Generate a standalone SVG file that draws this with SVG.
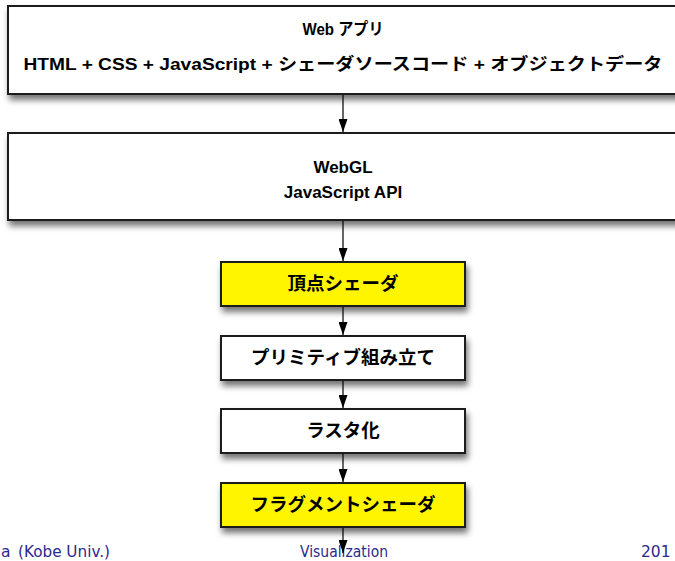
<svg xmlns="http://www.w3.org/2000/svg" width="675" height="561" viewBox="0 0 675 561">
<defs>
<filter id="sh" x="-10%" y="-20%" width="130%" height="160%">
<feDropShadow dx="2" dy="5" stdDeviation="3" flood-color="#000" flood-opacity="0.55"/>
</filter>
<marker id="arr" markerWidth="13" markerHeight="9" refX="13" refY="4.5" orient="auto" markerUnits="userSpaceOnUse" viewBox="0 0 13 9">
<path d="M0,0 L13,4.5 L0,9 Z" fill="#000"/>
</marker>
</defs>
<style>
.box{stroke:#1a1a1a;stroke-width:2;filter:url(#sh)}
.w{fill:#fff}
.y{fill:#fff500}
.t{font-family:"Liberation Sans","Noto Sans CJK JP",sans-serif;font-weight:bold;fill:#000;text-anchor:middle}
.c{stroke:#000;stroke-width:1.2;fill:none;marker-end:url(#arr)}
.f{font-family:"DejaVu Sans","Liberation Sans",sans-serif;fill:#2a2a8c;font-size:15.5px}
</style>
<rect width="675" height="561" fill="#fff"/>
<g id="connectors">
<line class="c" x1="343" y1="95" x2="343" y2="132"/>
<line class="c" x1="343" y1="221" x2="343" y2="261"/>
<line class="c" x1="343" y1="307" x2="343" y2="335"/>
<line class="c" x1="343" y1="381" x2="343" y2="408"/>
<line class="c" x1="343" y1="454" x2="343" y2="482"/>
</g>
<g id="webapp">
<rect class="box w" x="8" y="6" width="672" height="88"/>
<text class="t" x="343" y="35" font-size="16.5" textLength="81" lengthAdjust="spacingAndGlyphs">Web アプリ</text>
<text class="t" x="343" y="70" font-size="17" textLength="639" lengthAdjust="spacingAndGlyphs">HTML + CSS + JavaScript + シェーダソースコード + オブジェクトデータ</text>
</g>
<g id="webgl">
<rect class="box w" x="8" y="133" width="672" height="87"/>
<text class="t" x="343" y="173" font-size="17">WebGL</text>
<text class="t" x="343" y="198" font-size="17">JavaScript API</text>
</g>
<g id="vertex">
<rect class="box y" x="221" y="262" width="244" height="44"/>
<text class="t" x="343" y="290" font-size="18.5">頂点シェーダ</text>
</g>
<g id="primitive">
<rect class="box w" x="221" y="336" width="244" height="44"/>
<text class="t" x="343" y="364" font-size="18.5">プリミティブ組み立て</text>
</g>
<g id="raster">
<rect class="box w" x="221" y="409" width="244" height="44"/>
<text class="t" x="343" y="437" font-size="18.5">ラスタ化</text>
</g>
<g id="fragment">
<rect class="box y" x="221" y="483" width="244" height="44"/>
<text class="t" x="343" y="511" font-size="18.5">フラグメントシェーダ</text>
</g>
<g id="footer">
<text class="f" x="1" y="557">a</text>
<text class="f" x="18" y="557" textLength="92" lengthAdjust="spacingAndGlyphs">(Kobe Univ.)</text>
<text class="f" x="300" y="557" textLength="88" lengthAdjust="spacingAndGlyphs">Visualization</text>
<text class="f" x="641" y="557">201</text>
</g>
<line class="c" x1="343" y1="528" x2="343" y2="553"/>
</svg>
